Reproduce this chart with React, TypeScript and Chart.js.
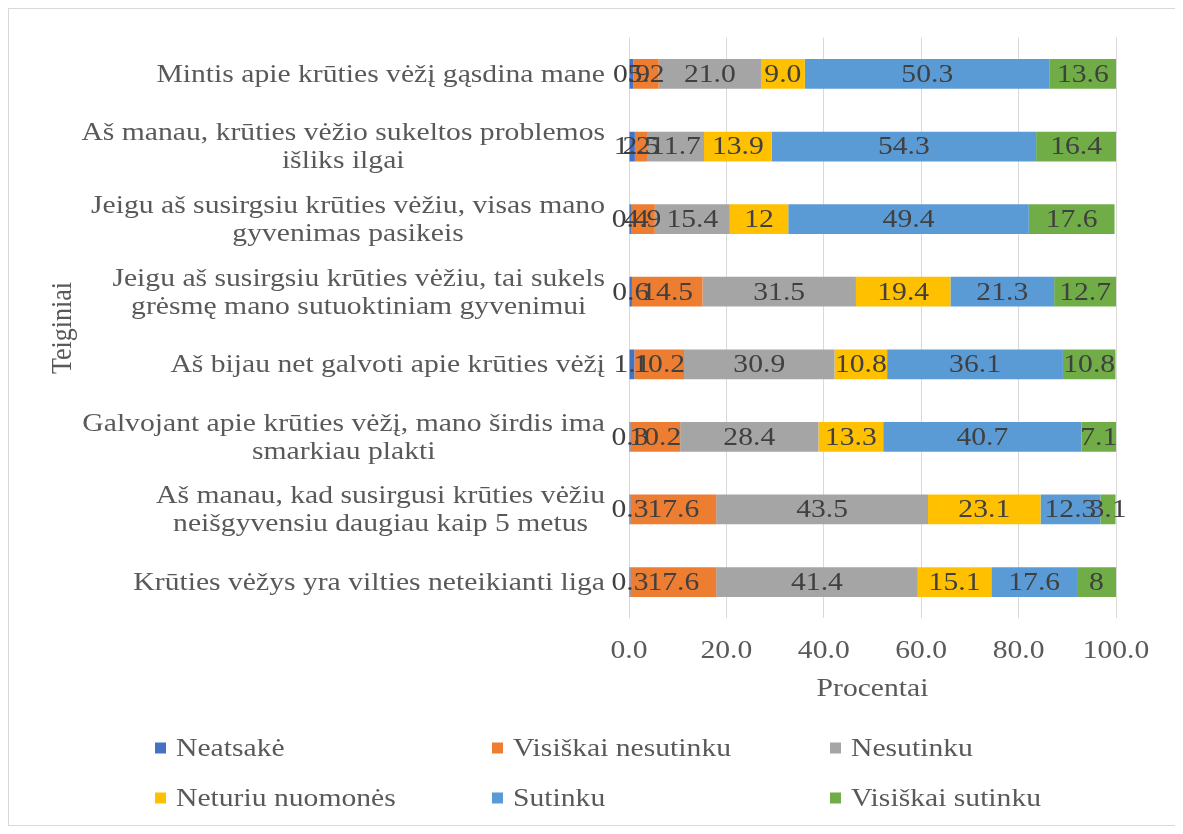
import React, { useEffect, useRef } from "react";
import { Chart, registerables } from "chart.js";

Chart.register(...registerables);

// ---------- data ----------
const categories: (string | string[])[] = [
  "Mintis apie krūties vėžį gąsdina mane",
  ["Aš manau, krūties vėžio sukeltos problemos", "išliks ilgai"],
  ["Jeigu aš susirgsiu krūties vėžiu, visas mano", "gyvenimas pasikeis"],
  ["Jeigu aš susirgsiu krūties vėžiu, tai sukels", "grėsmę mano sutuoktiniam gyvenimui"],
  "Aš bijau net galvoti apie krūties vėžį",
  ["Galvojant apie krūties vėžį, mano širdis ima", "smarkiau plakti"],
  ["Aš manau, kad susirgusi krūties vėžiu", "neišgyvensiu daugiau kaip 5 metus"],
  "Krūties vėžys yra vilties neteikianti liga",
];

const seriesNames = [
  "Neatsakė",
  "Visiškai nesutinku",
  "Nesutinku",
  "Neturiu nuomonės",
  "Sutinku",
  "Visiškai sutinku",
];

const seriesColors = ["#4472C4", "#ED7D31", "#A5A5A5", "#FFC000", "#5B9BD5", "#70AD47"];

// values as printed on the chart
const neatsake = ["0.9", "1.2", "0.4", "0.6", "1.1", "0.3", "0.3", "0.3"];
const visiskaiNesutinku = ["5.2", "2.5", "4.9", "14.5", "10.2", "10.2", "17.6", "17.6"];
const nesutinku = ["21.0", "11.7", "15.4", "31.5", "30.9", "28.4", "43.5", "41.4"];
const neturiuNuomones = ["9.0", "13.9", "12", "19.4", "10.8", "13.3", "23.1", "15.1"];
const sutinku = ["50.3", "54.3", "49.4", "21.3", "36.1", "40.7", "12.3", "17.6"];
const visiskaiSutinku = ["13.6", "16.4", "17.6", "12.7", "10.8", "7.1", "3.1", "8"];

const seriesValues = [neatsake, visiskaiNesutinku, nesutinku, neturiuNuomones, sutinku, visiskaiSutinku];

const xTicks = [0, 20, 40, 60, 80, 100];
const xTickLabels = ["0.0", "20.0", "40.0", "60.0", "80.0", "100.0"];
const xTitle = "Procentai";
const yTitle = "Teiginiai";

// ---------- layout / style ----------
const CANVAS_W = 1170;
const CANVAS_H = 816;
const PLOT_LEFT = 620;
const PLOT_RIGHT_PAD = 63;
const PLOT_TOP = 28.7;
const PLOT_BOTTOM = 609.3;
const FONT_FAMILY = "'Liberation Serif', 'Times New Roman', serif";
const FONT_SIZE = 26;
const SX = 1.14; // horizontal text stretch seen in the original
const TEXT_COLOR = "#595959";
const LABEL_COLOR = "#404040";

function sText(ctx: CanvasRenderingContext2D, text: string, x: number, y: number, align: CanvasTextAlign) {
  ctx.save();
  ctx.translate(x, y);
  ctx.scale(SX, 1);
  ctx.textAlign = align;
  ctx.fillText(text, 0, 0);
  ctx.restore();
}

const overlayPlugin = {
  id: "overlay",
  afterDatasetsDraw(chart: any) {
    const ctx = chart.ctx as CanvasRenderingContext2D;
    ctx.save();
    ctx.font = `${FONT_SIZE}px ${FONT_FAMILY}`;
    ctx.fillStyle = LABEL_COLOR;
    ctx.textBaseline = "middle";
    chart.data.datasets.forEach((ds: any, di: number) => {
      const meta = chart.getDatasetMeta(di);
      meta.data.forEach((el: any, i: number) => {
        const p = el.getProps(["x", "base", "y"], true);
        sText(ctx, seriesValues[di][i], (p.x + p.base) / 2, p.y + 1, "center");
      });
    });
    ctx.restore();
  },
  afterDraw(chart: any) {
    const ctx = chart.ctx as CanvasRenderingContext2D;
    const area = chart.chartArea;
    const yScale = chart.scales.y;
    const xScale = chart.scales.x;
    ctx.save();
    ctx.font = `${FONT_SIZE}px ${FONT_FAMILY}`;
    ctx.fillStyle = TEXT_COLOR;
    ctx.textBaseline = "middle";

    // category labels: block right-aligned, lines centered inside block
    const lineH = 28;
    const right = area.left - 24;
    categories.forEach((cat, i) => {
      const lines = Array.isArray(cat) ? cat : [cat];
      const y = yScale.getPixelForTick(i);
      const maxW = Math.max(...lines.map((l) => ctx.measureText(l).width * SX));
      lines.forEach((l, j) => {
        const cy = y + (j - (lines.length - 1) / 2) * lineH;
        sText(ctx, l, right - maxW / 2, cy + 1, "center");
      });
    });

    // x tick labels
    xTicks.forEach((v, k) => {
      sText(ctx, xTickLabels[k], xScale.getPixelForValue(v), 642, "center");
    });

    // y axis title
    ctx.save();
    ctx.translate(54, (area.top + area.bottom) / 2);
    ctx.rotate(-Math.PI / 2);
    ctx.scale(1, SX);
    ctx.textAlign = "center";
    ctx.fillText(yTitle, 0, 0);
    ctx.restore();

    // x axis title
    sText(ctx, xTitle, (area.left + area.right) / 2, 680, "center");

    // legend (3 columns x 2 rows)
    const colX = [146, 483, 821];
    const rowY = [739, 789];
    const box = 11;
    seriesNames.forEach((name, k) => {
      const cx = colX[k % 3];
      const cy = rowY[Math.floor(k / 3)];
      ctx.fillStyle = seriesColors[k];
      ctx.fillRect(cx, cy - box / 2, box, box);
      ctx.fillStyle = TEXT_COLOR;
      sText(ctx, name, cx + 21, cy + 1, "left");
    });
    ctx.restore();
  },
};

export default function App() {
  const canvasRef = useRef<HTMLCanvasElement | null>(null);

  useEffect(() => {
    if (!canvasRef.current) return;
    const chart = new Chart(canvasRef.current, {
      type: "bar",
      data: {
        labels: categories as any,
        datasets: seriesNames.map((name, k) => ({
          label: name,
          data: seriesValues[k].map(Number),
          backgroundColor: seriesColors[k],
          borderWidth: 0,
          barPercentage: 0.41,
          categoryPercentage: 1,
        })),
      },
      options: {
        indexAxis: "y",
        responsive: false,
        animation: false,
        devicePixelRatio: 1,
        layout: {
          padding: { left: 0, right: PLOT_RIGHT_PAD, top: PLOT_TOP, bottom: 0 },
        },
        plugins: {
          legend: { display: false },
          tooltip: { enabled: false },
          title: { display: false },
        },
        scales: {
          x: {
            type: "linear",
            stacked: true,
            min: xTicks[0],
            max: xTicks[xTicks.length - 1],
            ticks: {
              stepSize: xTicks[1] - xTicks[0],
              display: false,
            },
            grid: { color: "#D9D9D9", lineWidth: 1, drawTicks: false },
            border: { display: false },
            afterFit: (s: any) => {
              s.height = CANVAS_H - PLOT_BOTTOM;
            },
          },
          y: {
            type: "category",
            stacked: true,
            ticks: { display: false },
            grid: { display: false },
            border: { display: false },
            afterFit: (s: any) => {
              s.width = PLOT_LEFT;
            },
          },
        },
      },
      plugins: [overlayPlugin],
    });
    return () => chart.destroy();
  }, []);

  return (
    <div
      style={{
        width: CANVAS_W,
        height: CANVAS_H,
        border: "1px solid #D9D9D9",
        background: "#fff",
        overflow: "hidden",
      }}
    >
      <canvas ref={canvasRef} width={CANVAS_W} height={CANVAS_H} style={{ display: "block" }} />
    </div>
  );
}
